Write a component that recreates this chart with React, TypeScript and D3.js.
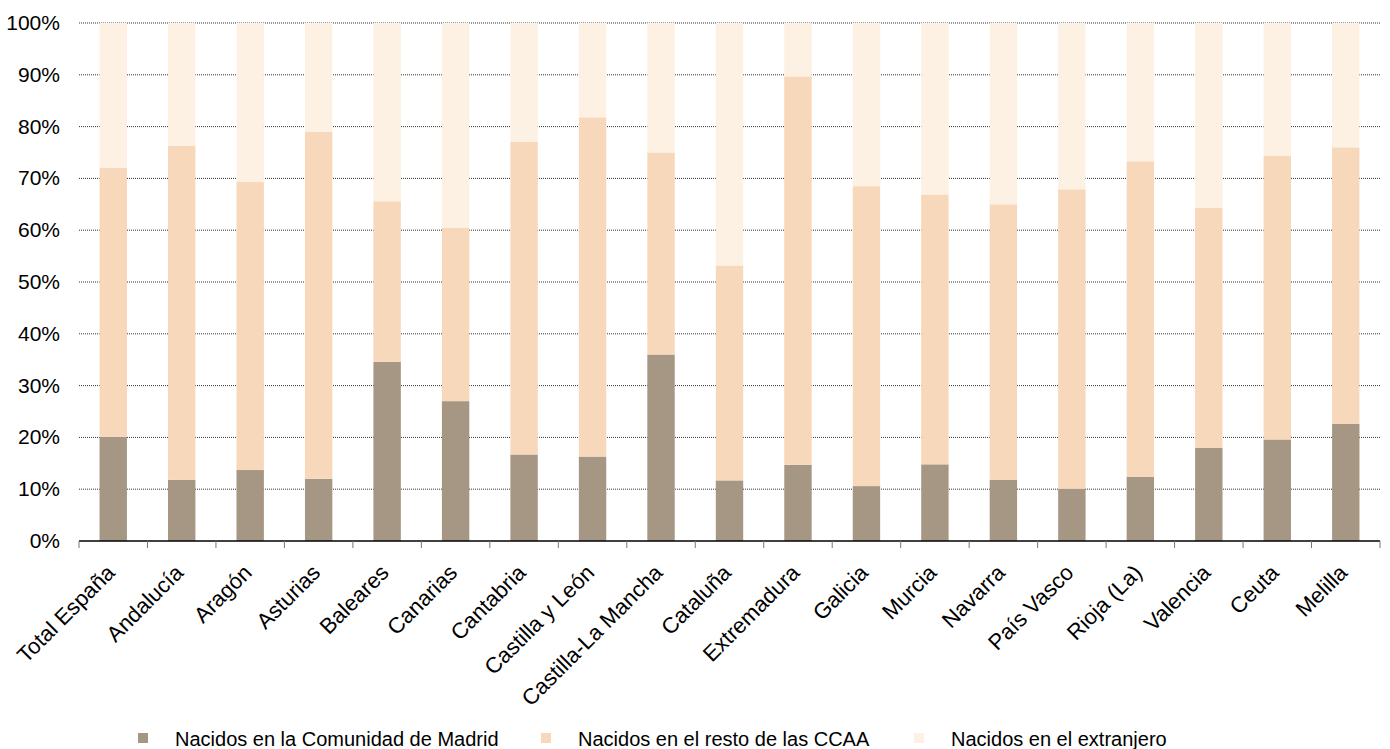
import React from "react";
import * as d3 from "d3";

const categories = ["Total España","Andalucía","Aragón","Asturias","Baleares","Canarias","Cantabria","Castilla y León","Castilla-La Mancha","Cataluña","Extremadura","Galicia","Murcia","Navarra","País Vasco","Rioja (La)","Valencia","Ceuta","Melilla"];
const madrid = [20.1,11.8,13.7,12.0,34.6,27.0,16.7,16.3,36.0,11.7,14.7,10.6,14.8,11.8,10.1,12.4,18.0,19.6,22.6];
const resto = [51.9,64.5,55.6,67.0,31.0,33.5,60.4,65.5,39.0,41.5,75.0,57.9,52.1,53.2,57.8,60.9,46.3,54.8,53.4];
const extranjero = categories.map((_, i) => +(100 - madrid[i] - resto[i]).toFixed(1));
const seriesNames = ["Nacidos en la Comunidad de Madrid","Nacidos en el resto de las CCAA","Nacidos en el extranjero"];
const colors = ["#A69684","#F7D8BA","#FCF1E3"];
const yTicks = [0,10,20,30,40,50,60,70,80,90,100];

export default function App() {
  const W = 1390, H = 749;
  const left = 79, right = 1380, top = 23, bottom = 541;
  const x = d3.scaleBand().domain(categories).range([left, right]).paddingInner(0.6).paddingOuter(0.3);
  const xb = d3.scaleBand().domain(categories).range([left, right]);
  const y = d3.scaleLinear().domain([0, 100]).range([bottom, top]);
  const rows = categories.map((c, i) => ({ cat: c, madrid: madrid[i], resto: resto[i], extranjero: extranjero[i] }));
  const stack = d3.stack<any>().keys(["madrid","resto","extranjero"])(rows);
  const font = "'Liberation Sans', Arial, sans-serif";
  const legendX = [138, 541, 914];
  return (
    <svg width={W} height={H} style={{ position: "absolute", left: 0, top: 0, background: "#fff" }} fontFamily={font}>
      {yTicks.filter(t => t > 0).map(t => (
        <line key={t} x1={left} x2={right} y1={y(t)} y2={y(t)} stroke="#333" strokeWidth={1} strokeDasharray="1,1" />
      ))}
      {stack.map((s, si) => s.map((d, i) => (
        <rect key={si + "-" + i} x={x(categories[i])} width={x.bandwidth()} y={y(d[1])} height={y(d[0]) - y(d[1])} fill={colors[si]} />
      )))}
      <line x1={left} x2={right} y1={bottom} y2={bottom} stroke="#000" strokeWidth={1.5} />
      {categories.map((c, i) => (
        <line key={c} x1={xb(c)!} x2={xb(c)!} y1={bottom} y2={bottom + 7} stroke="#777" />
      ))}
      <line x1={right} x2={right} y1={bottom} y2={bottom + 7} stroke="#777" />
      {yTicks.map(t => (
        <text key={t} x={60} y={y(t) + 7} textAnchor="end" fontSize={21} fill="#000">{t}%</text>
      ))}
      {categories.map(c => {
        const cx = xb(c)! + xb.bandwidth() / 2 + 3;
        const cy = bottom + 33;
        return (
          <text key={c} x={cx} y={cy} textAnchor="end" fontSize={22} transform={`rotate(-45, ${cx}, ${cy})`} fill="#000">{c}</text>
        );
      })}
      {seriesNames.map((n, i) => (
        <g key={n}>
          <rect x={legendX[i]} y={733} width={10} height={10} fill={colors[i]} />
          <text x={legendX[i] + 37} y={746} fontSize={20} fill="#000">{n}</text>
        </g>
      ))}
    </svg>
  );
}
